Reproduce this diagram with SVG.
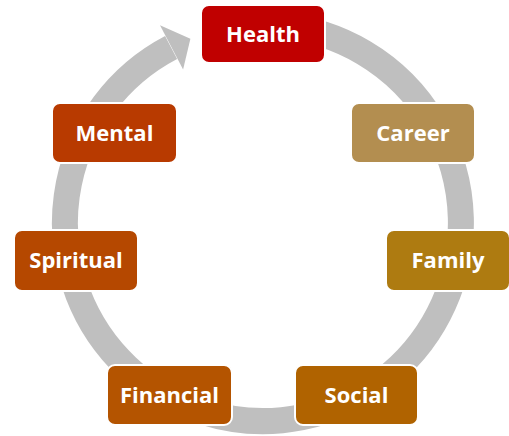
<svg xmlns="http://www.w3.org/2000/svg" width="509" height="436" viewBox="0 0 509 436">
  <style>
    .box { stroke: #ffffff; stroke-width: 2; }
    .lbl { font-family: "Open Sans", "Liberation Sans", sans-serif; font-weight: bold; font-size: 22px; fill: #ffffff; text-anchor: middle; }
    .ring { fill: none; stroke: #BFBFBF; stroke-width: 26; }
  </style>
  <rect width="509" height="436" fill="#ffffff"/>
  <g id="connectors">
    <path class="ring" d="M 280.3 25.8 A 198 198 0 1 1 171.1 47.6"/>
    <polygon points="183.1,69.5 160.0,25.2 190.4,38.8" fill="#BFBFBF"/>
  </g>
  <g id="health">
    <rect class="box" x="201" y="5" width="124" height="58" rx="8" fill="#C00000"/>
    <text class="lbl" x="263" y="42">Health</text>
  </g>
  <g id="career">
    <rect class="box" x="351" y="103" width="124" height="60" rx="8" fill="#B38E50"/>
    <text class="lbl" x="413" y="141">Career</text>
  </g>
  <g id="family">
    <rect class="box" x="386" y="230" width="124" height="61" rx="8" fill="#AE7B11"/>
    <text class="lbl" x="448" y="268">Family</text>
  </g>
  <g id="social">
    <rect class="box" x="295" y="365" width="123" height="60" rx="8" fill="#B06300"/>
    <text class="lbl" x="356.5" y="403">Social</text>
  </g>
  <g id="financial">
    <rect class="box" x="107" y="365" width="125" height="60" rx="8" fill="#B45400"/>
    <text class="lbl" x="169.5" y="403">Financial</text>
  </g>
  <g id="spiritual">
    <rect class="box" x="14" y="230" width="124" height="61" rx="8" fill="#B54800"/>
    <text class="lbl" x="76" y="268">Spiritual</text>
  </g>
  <g id="mental">
    <rect class="box" x="52" y="103" width="125" height="60" rx="8" fill="#B83A00"/>
    <text class="lbl" x="114.5" y="141">Mental</text>
  </g>
</svg>
